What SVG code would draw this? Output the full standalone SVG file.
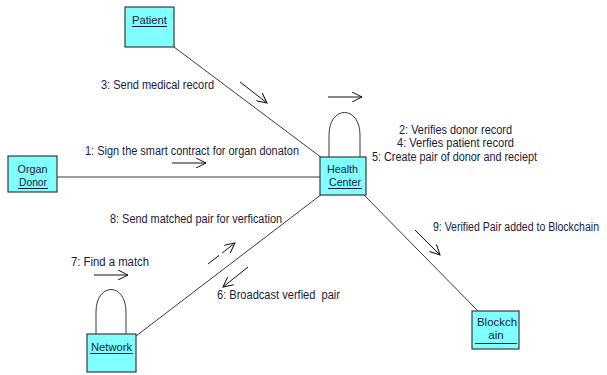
<svg xmlns="http://www.w3.org/2000/svg" width="607" height="375" viewBox="0 0 607 375">
<defs>
<marker id="ah" markerWidth="12" markerHeight="10" refX="10" refY="5" orient="auto" markerUnits="userSpaceOnUse">
<path d="M0,0 L10,5 L0,10" fill="none" stroke="#111" stroke-width="1"/>
</marker>
<style>
.box{fill:#80ffff;stroke:#3a3a3a;stroke-width:1.2}
.nt{font-family:"Liberation Sans",Arial,sans-serif;font-size:11.5px;fill:#1a1a3a;text-anchor:middle}
.lb{font-family:"Liberation Sans",Arial,sans-serif;font-size:12px;fill:#1a1a3a;white-space:pre}
.ul{stroke:#1a1a3a;stroke-width:1}
.ln{stroke:#3a3a3a;stroke-width:1;fill:none}
.ar{stroke:#111;stroke-width:1;fill:none;marker-end:url(#ah)}
</style>
</defs>
<rect width="607" height="375" fill="#fff"/>
<g id="connectors">
<line class="ln" x1="174" y1="47" x2="322" y2="158"/>
<line class="ln" x1="57" y1="177" x2="320" y2="177"/>
<line class="ln" x1="136" y1="336" x2="322" y2="194"/>
<line class="ln" x1="364" y1="195" x2="478" y2="311"/>
<path class="ln" d="M329,157 L329,135 C329,105 360,105 360,135 L360,157"/>
<path class="ln" d="M96,334 L96,312 C96,282 126,282 126,312 L126,334"/>
<line class="ar" x1="240" y1="82" x2="267" y2="103"/>
<line class="ar" x1="172" y1="163" x2="206" y2="163"/>
<line class="ar" x1="328" y1="97" x2="362" y2="97"/>
<line class="ar" x1="94" y1="275" x2="128" y2="275"/>
<line class="ar" x1="208" y1="264" x2="235" y2="243" stroke-dasharray="14,4"/>
<line class="ar" x1="248" y1="267" x2="223" y2="287"/>
<line class="ar" x1="415" y1="230" x2="440" y2="255"/>
<text class="lb" x="101" y="89" textLength="113" lengthAdjust="spacingAndGlyphs">3: Send medical record</text>
<text class="lb" x="85" y="155" textLength="214" lengthAdjust="spacingAndGlyphs">1: Sign the smart contract for organ donaton</text>
<text class="lb" x="110" y="223" textLength="172" lengthAdjust="spacingAndGlyphs">8: Send matched pair for verfication</text>
<text class="lb" x="71" y="266" textLength="78" lengthAdjust="spacingAndGlyphs">7: Find a match</text>
<text class="lb" x="217" y="299" textLength="123" lengthAdjust="spacingAndGlyphs" xml:space="preserve">6: Broadcast verfied  pair</text>
<text class="lb" x="433" y="231" textLength="166" lengthAdjust="spacingAndGlyphs">9: Verified Pair added to Blockchain</text>
<text class="lb" x="399" y="134" textLength="113" lengthAdjust="spacingAndGlyphs">2: Verifies donor record</text>
<text class="lb" x="397" y="147" textLength="117" lengthAdjust="spacingAndGlyphs">4: Verfies patient record</text>
<text class="lb" x="372" y="161" textLength="165" lengthAdjust="spacingAndGlyphs">5: Create pair of donor and reciept</text>
</g>
<g id="patient">
<rect class="box" x="125" y="7" width="49" height="40"/>
<text class="nt" x="149.5" y="24" textLength="35" lengthAdjust="spacingAndGlyphs">Patient</text>
<line class="ul" x1="132" y1="26.5" x2="167" y2="26.5"/>
</g>
<g id="organ-donor">
<rect class="box" x="8" y="156" width="49" height="36"/>
<text class="nt" x="32.5" y="172.5" textLength="30" lengthAdjust="spacingAndGlyphs">Organ</text>
<text class="nt" x="33" y="186" textLength="28" lengthAdjust="spacingAndGlyphs">Donor</text>
<line class="ul" x1="18" y1="188.5" x2="48" y2="188.5"/>
</g>
<g id="health-center">
<rect class="box" x="320" y="157" width="46" height="38"/>
<text class="nt" x="342.5" y="172.5" textLength="31" lengthAdjust="spacingAndGlyphs">Health</text>
<text class="nt" x="345" y="186" textLength="32" lengthAdjust="spacingAndGlyphs">Center</text>
<line class="ul" x1="328" y1="188.5" x2="362" y2="188.5"/>
</g>
<g id="network">
<rect class="box" x="87" y="334" width="49" height="38"/>
<text class="nt" x="111.5" y="351" textLength="41" lengthAdjust="spacingAndGlyphs">Network</text>
<line class="ul" x1="90" y1="353.5" x2="133" y2="353.5"/>
</g>
<g id="blockchain">
<rect class="box" x="472" y="311" width="47" height="38"/>
<text class="nt" x="497" y="326" textLength="40" lengthAdjust="spacingAndGlyphs">Blockch</text>
<text class="nt" x="496" y="339">ain</text>
<line class="ul" x1="475" y1="343.5" x2="517" y2="343.5"/>
</g>
</svg>
